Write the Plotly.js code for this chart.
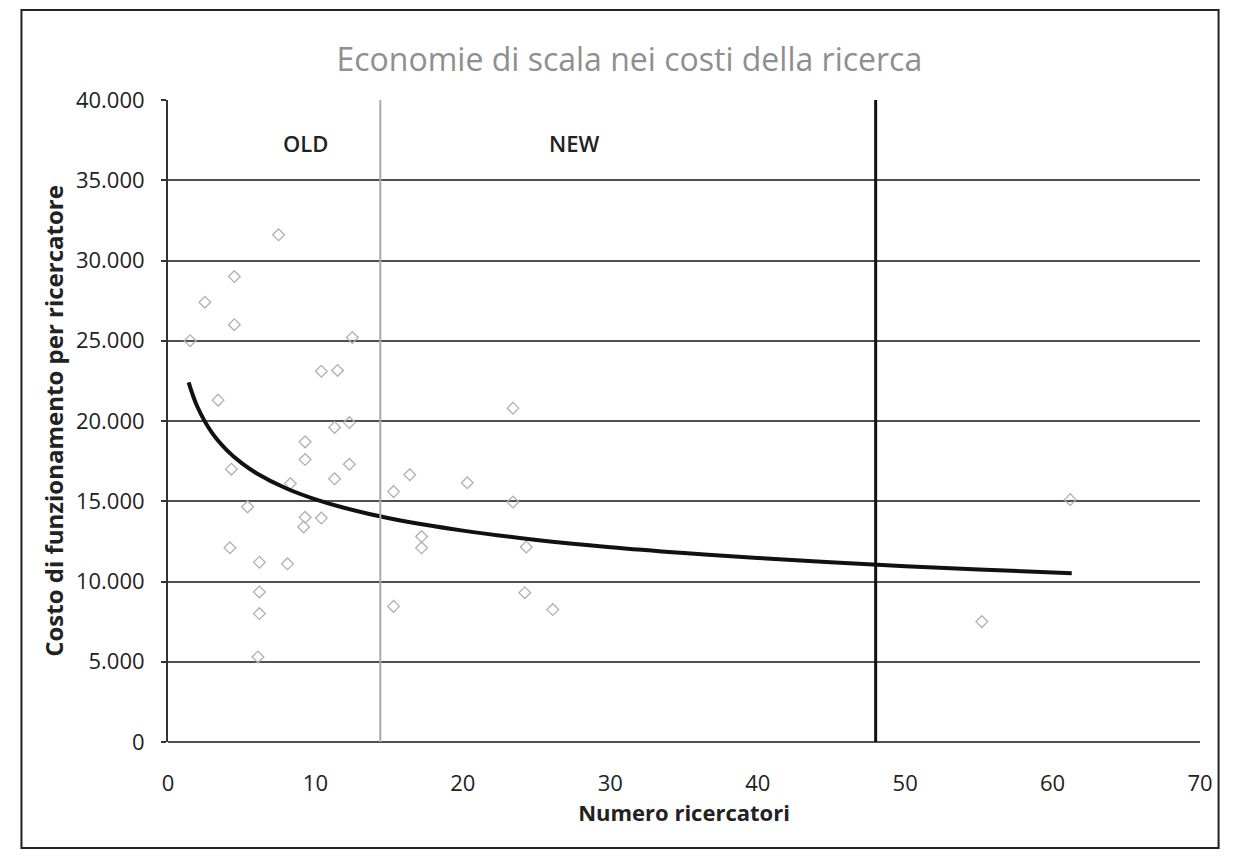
<!DOCTYPE html>
<html><head><meta charset="utf-8">
<script src="https://cdn.plot.ly/plotly-3.0.1.min.js"></script>
<style>html,body{margin:0;padding:0;background:#fff}#chart{width:1234px;height:861px}</style>
</head><body><div id="chart"></div>
<script>
// Scatter data: number of researchers vs running cost per researcher
const researchers = [1.5, 2.5, 4.5, 4.5, 7.5, 12.5, 10.4, 11.5, 3.4, 11.3, 12.3, 9.3, 9.3, 4.3, 12.3, 11.3, 8.3, 5.4, 9.3, 10.4, 9.2, 4.2, 6.2, 8.1, 6.2, 6.2, 6.1, 15.3, 15.3, 16.4, 20.3, 23.4, 23.4, 17.2, 17.2, 24.3, 24.2, 26.1, 61.2, 55.2];
const costs = [25000, 27400, 29000, 26000, 31600, 25200, 23100, 23150, 21300, 19600, 19900, 18700, 17600, 17000, 17300, 16400, 16100, 14650, 14000, 13950, 13400, 12100, 11200, 11100, 9350, 8000, 5300, 15600, 8450, 16650, 16150, 20800, 14950, 12800, 12100, 12150, 9300, 8250, 15100, 7500];
// Trend line
const trendX = [1.4, 2, 3, 4, 5, 6, 8, 10, 12, 15, 20, 25, 30, 35, 40, 47.5, 55, 61.3];
const trendY = [22410, 20870, 19240, 18170, 17370, 16750, 15810, 15120, 14580, 13940, 13170, 12590, 12140, 11780, 11470, 11070, 10750, 10520];
// Vertical separators
const oldNewX = 14.4;
const limitX = 48;
const regionLabels = ['OLD', 'NEW'];
const regionLabelX = [9.3, 27.6];
const regionLabelY = 37300;

const FONT = 'Open Sans, Noto Sans, sans-serif';

const data = [
  {x: researchers, y: costs, type: 'scatter', mode: 'markers',
   marker: {symbol: 'diamond-open', size: 9, color: '#b0b0b0', line: {width: 1.3, color: '#b0b0b0'}},
   hoverinfo: 'x+y', showlegend: false},
  {x: trendX, y: trendY, type: 'scatter', mode: 'lines',
   line: {color: '#111', width: 4, shape: 'spline'}, showlegend: false}
];

const layout = {
  width: 1234, height: 861,
  margin: {l: 168, r: 34, t: 100, b: 119},
  paper_bgcolor: '#fff', plot_bgcolor: '#fff',
  separators: ',.',
  font: {family: FONT, color: '#222'},
  title: {text: 'Economie di scala nei costi della ricerca', x: 0.51, xanchor: 'center', y: 0.93, yanchor: 'middle',
          font: {size: 32, color: '#8f8f8f', family: FONT, weight: 400}},
  xaxis: {range: [0, 70], dtick: 10, showgrid: false, zeroline: false, showline: false,
          ticks: '', ticklabelstandoff: 26, tickfont: {size: 22, color: '#222', family: FONT},
          title: {text: 'Numero ricercatori', font: {size: 22, color: '#222', family: FONT, weight: 'bold'}, standoff: 6}},
  yaxis: {range: [0, 40000], dtick: 5000, tickformat: ',d', showgrid: true, gridcolor: '#505050', gridwidth: 2.2,
          zeroline: false, showline: true, linecolor: '#333', linewidth: 2,
          ticks: 'outside', ticklen: 5, tickwidth: 1.5, tickcolor: '#333',
          ticklabelstandoff: 12, tickfont: {size: 22, color: '#222', family: FONT},
          title: {text: 'Costo di funzionamento per ricercatore', font: {size: 24, color: '#222', family: FONT, weight: 'bold'}, standoff: 6}},
  shapes: [
    {type: 'line', xref: 'x', yref: 'paper', x0: 0, x1: 70, y0: 0, y1: 0, line: {color: '#505050', width: 2.2}},
    {type: 'line', xref: 'x', yref: 'paper', x0: oldNewX, x1: oldNewX, y0: 0, y1: 1, line: {color: '#aaa', width: 2}},
    {type: 'line', xref: 'x', yref: 'paper', x0: limitX, x1: limitX, y0: 0, y1: 1, line: {color: '#111', width: 3}},
    {type: 'rect', xref: 'paper', yref: 'paper', x0: -0.142, x1: 1.018, y0: -0.165, y1: 1.14, line: {color: '#222', width: 2}}
  ],
  annotations: regionLabels.map((t, i) => ({x: regionLabelX[i], y: regionLabelY, xref: 'x', yref: 'y', text: t, showarrow: false,
    font: {size: 22, color: '#222', family: FONT, weight: 600}}))
};

Plotly.newPlot('chart', data, layout, {displayModeBar: false});
</script></body></html>
